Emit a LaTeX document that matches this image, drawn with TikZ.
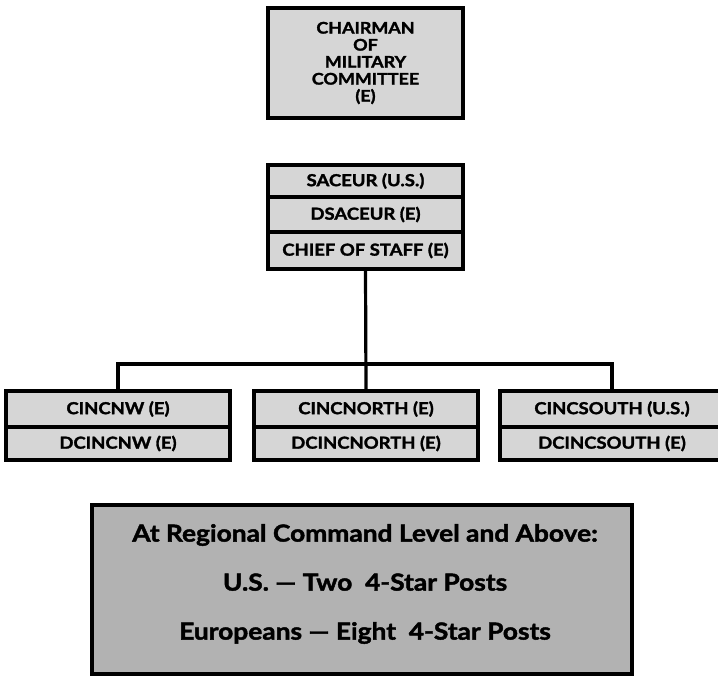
\documentclass[tikz,border=0pt]{standalone}
\usepackage{fontspec}
\setmainfont{Lato}[BoldFeatures={FakeBold=1.8,FakeStretch=1.12}]
\definecolor{boxfill}{RGB}{214,214,214}
\definecolor{notefill}{RGB}{178,178,178}
\begin{document}
\begin{tikzpicture}[x=1pt,y=-1pt,
  every node/.style={font=\bfseries},
  box/.style={draw=black, line width=3.2pt, fill=boxfill, inner sep=0pt, align=center},
  row/.style={box, minimum width=195pt},
  lrow/.style={box, minimum width=224pt},
  sfont/.style={font=\bfseries\fontsize{16.5}{20}\selectfont},
  link/.style={draw=black, line width=3.2pt}]
\useasboundingbox (0,0) rectangle (718,676);
\clip (0,0) rectangle (718,676);
% top box
\node[box, minimum width=195pt, minimum height=110pt, font=\bfseries\fontsize{16}{17}\selectfont] (chair) at (365.5,63)
  {CHAIRMAN\\OF\\MILITARY\\COMMITTEE\\(E)};
% SACEUR stack
\node[row, minimum height=32pt, sfont] (sac) at (365.5,181) {SACEUR (U.S.)};
\node[row, minimum height=35pt, sfont] (dsac) at (365.5,214.5) {DSACEUR (E)};
\node[row, minimum height=37pt, sfont] (cos) at (365.5,250.5) {CHIEF OF STAFF (E)};
% regional commands
\node[lrow, minimum height=36pt, sfont] (cnw) at (118,409) {CINCNW (E)};
\node[lrow, minimum height=33pt, sfont] (dcnw) at (118,443.5) {DCINCNW (E)};
\node[lrow, minimum height=36pt, sfont] (cnorth) at (366,409) {CINCNORTH (E)};
\node[lrow, minimum height=33pt, sfont] (dcnorth) at (366,443.5) {DCINCNORTH (E)};
\node[lrow, minimum height=36pt, sfont] (csouth) at (612,409) {CINCSOUTH (U.S.)};
\node[lrow, minimum height=33pt, sfont] (dcsouth) at (612,443.5) {DCINCSOUTH (E)};
% connectors
\coordinate (bus) at (365,364);
\draw[link] (cos.south) -- (cnorth.north);
\draw[link] (cnw.north) |- (bus) -| (csouth.north);
% note box
\node[box, fill=notefill, minimum width=540pt, minimum height=169pt] (note) at (362,589.5) {};
\node[align=center, inner sep=0pt, font=\bfseries\fontsize{23.5}{49}\selectfont] (notetext) at (365,584)
  {At Regional Command Level and Above:\\U.S. --- Two\ \ 4-Star Posts\\Europeans --- Eight\ \ 4-Star Posts};
\end{tikzpicture}
\end{document}
